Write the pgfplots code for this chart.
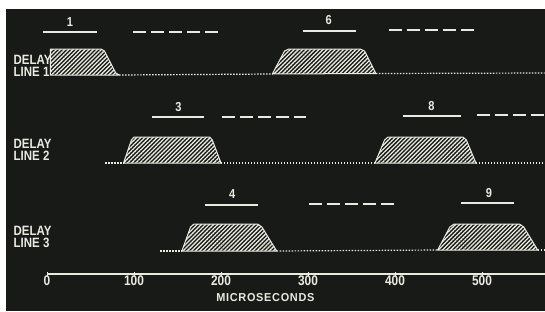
\documentclass[border=0pt]{standalone}
\usepackage{pgfplots}
\pgfplotsset{compat=1.18}
\usetikzlibrary{patterns.meta}
\usepackage{fontspec}
\setmainfont{Liberation Sans}
\newfontfamily\cond{Liberation Sans}[FakeStretch=0.85]
\newfontfamily\wide{Liberation Sans}[FakeStretch=0.95, LetterSpace=6]
\definecolor{scope}{RGB}{24,26,24}
\definecolor{ink}{RGB}{234,234,224}
\begin{document}
\begin{tikzpicture}
\fill[white] (-6pt,0) rectangle (539pt,311pt);
\begin{axis}[
  at={(0,0)}, anchor=south west,
  scale only axis, width=539pt, height=302pt,
  xmin=-47.13, xmax=572.4, ymin=9, ymax=311, y dir=reverse,
  axis line style={draw=none}, ticks=none,
  axis background/.style={fill=scope},
  clip=true,
]
\pgfplotsset{pulse/.style={draw=ink, line width=1pt, line join=round,
  pattern={Lines[angle=45,distance=2.9pt,line width=1.3pt]}, pattern color=ink}}
\pgfplotsset{base/.style={draw=ink, line width=1.2pt, dash pattern=on 1.4pt off 1.6pt}}
\pgfplotsset{bar/.style={draw=ink, line width=1.8pt}}
\pgfplotsset{dbar/.style={draw=ink, line width=2.6pt, dash pattern=on 13pt off 5pt}}
% ---- delay line 1
\addplot[pulse] coordinates {(4,75) (4,49) (62,49) (66,51) (79,73) (83,75)} -- cycle;
\addplot[base] coordinates {(83,75) (259,74)};
\addplot[pulse] coordinates {(259,74) (273,51) (278,49) (360,49) (365,51) (378,73.5)} -- cycle;
\addplot[base] coordinates {(378,73.5) (572,73)};
\addplot[bar] coordinates {(-4.6,32) (57.6,32)};
\addplot[dbar] coordinates {(99,32) (200,32)};
\addplot[bar] coordinates {(293.8,31) (354.8,31)};
\addplot[dbar] coordinates {(393,30) (494,30)};
% ---- delay line 2
\addplot[base] coordinates {(67,163) (88,163)};
\addplot[pulse] coordinates {(88,163) (97,140) (100,137) (187,137) (190,140) (200,163)} -- cycle;
\addplot[base] coordinates {(200,163) (377,163)};
\addplot[pulse] coordinates {(377,163) (388,140) (392,137) (478,137) (482,140) (493,163)} -- cycle;
\addplot[base] coordinates {(493,163) (572,163)};
\addplot[bar] coordinates {(121,117) (181,117)};
\addplot[dbar] coordinates {(201.6,117) (298,117)};
\addplot[bar] coordinates {(409,116) (476,116)};
\addplot[dbar] coordinates {(494,115) (580,115)};
% ---- delay line 3
\addplot[base] coordinates {(130,251) (155,251)};
\addplot[pulse] coordinates {(155,251) (165,227) (169,224) (242,224) (247,227) (264,251)} -- cycle;
\addplot[base] coordinates {(264,251) (449,250)};
\addplot[pulse] coordinates {(449,250) (463,227) (468,224) (543,224) (548,227) (564,250)} -- cycle;
\addplot[base] coordinates {(564,250) (572,250)};
\addplot[bar] coordinates {(182,205) (242,205)};
\addplot[dbar] coordinates {(301,204) (400,204)};
\addplot[bar] coordinates {(476,203) (537,203)};
% ---- time axis
\addplot[draw=ink, line width=1.3pt] coordinates {(0,274) (572,274)};
\addplot[only marks, mark=|, mark size=2.3pt, ink, line width=1pt,
  point meta=explicit symbolic,
  nodes near coords, nodes near coords align={below},
  every node near coord/.append style={font=\fontsize{14}{14}\cond\bfseries, text=ink, inner sep=1pt, yshift=0pt}]
  coordinates {(0,274)[0] (100,274)[100] (200,274)[200] (300,274)[300] (400,274)[400] (500,274)[500]};
% ---- labels
\tikzset{lab/.style={font=\fontsize{13.5}{12.5}\cond\bfseries, text=ink, align=left, anchor=west, inner sep=0pt}}
\node[lab] at (axis cs:-38.5,66) {DELAY\\LINE 1};
\node[lab] at (axis cs:-38.5,150) {DELAY\\LINE 2};
\node[lab] at (axis cs:-38.5,237) {DELAY\\LINE 3};
\node[font=\fontsize{11.5}{11.5}\wide\bfseries, text=ink] at (axis cs:251,298) {MICROSECONDS};
\tikzset{num/.style={font=\fontsize{13}{13}\cond\bfseries, text=ink, inner sep=0pt}}
\node[num] at (axis cs:26.5,22) {1};
\node[num] at (axis cs:323.7,20) {6};
\node[num] at (axis cs:151,107) {3};
\node[num] at (axis cs:442,106) {8};
\node[num] at (axis cs:213,194) {4};
\node[num] at (axis cs:508,193) {9};
\end{axis}
\end{tikzpicture}
\end{document}
